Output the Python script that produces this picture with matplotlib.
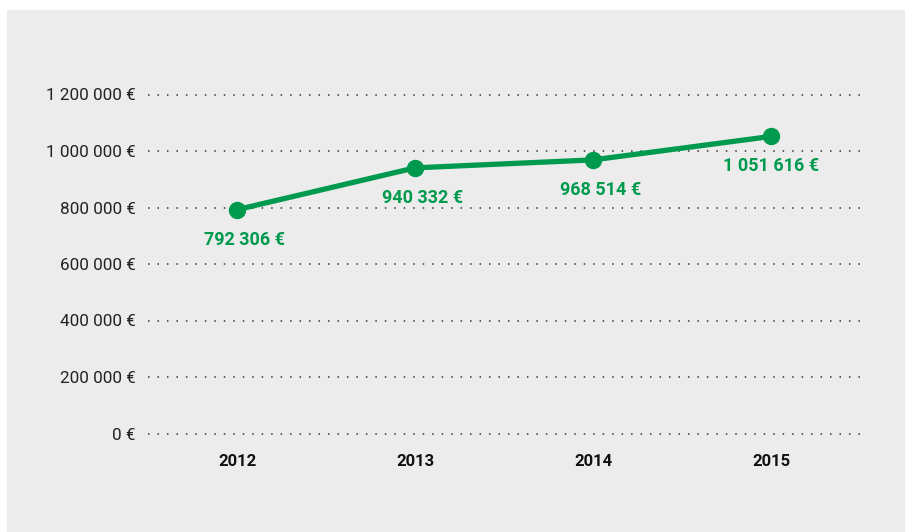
import matplotlib
matplotlib.use("Agg")
import matplotlib.pyplot as plt
from matplotlib.patches import Rectangle

years = ["2012", "2013", "2014", "2015"]
values = [792306, 940332, 968514, 1051616]
value_labels = ["792 306 €", "940 332 €", "968 514 €", "1 051 616 €"]
yticks = [0, 200000, 400000, 600000, 800000, 1000000, 1200000]
ytick_labels = ["0 €", "200 000 €", "400 000 €", "600 000 €", "800 000 €", "1 000 000 €", "1 200 000 €"]

# horizontal nudges of the value labels (points), as in the reference
label_dx = [5.5, 5.5, 5.5, 0]

plt.rcParams['font.family'] = ['Roboto', 'DejaVu Sans']

W, H = 905, 532
fig = plt.figure(figsize=(W / 100, H / 100), dpi=100)
fig.patch.set_facecolor("white")
fig.patches.append(Rectangle((7 / W, 0), 1 - 7 / W, (H - 10) / H, transform=fig.transFigure,
                             facecolor="#ececec", edgecolor="none", zorder=-5))

ax = fig.add_axes([148 / W, (H - 433.5) / H, (860 - 148) / W, (433.5 - 94.5) / H])
ax.set_facecolor("none")
ax.set_zorder(2)
green = "#009a4e"
x = list(range(len(years)))
ax.plot(x, values, color=green, lw=3.8, marker="o", markersize=11.5, solid_capstyle="round", zorder=3)
for xi, v, lab, dx in zip(x, values, value_labels, label_dx):
    ax.annotate(lab, (xi, v), xytext=(dx, -21.5), textcoords="offset points", ha="center", va="center",
                color=green, fontsize=13, fontweight="bold")

ax.set_xlim(-0.5, len(years) - 0.5)
ax.set_ylim(0, 1200000)
ax.set_yticks(yticks)
ax.set_yticklabels(ytick_labels, fontsize=12.3, color="#222222")
ax.set_xticks(x)
ax.set_xticklabels(years, fontsize=12, fontweight="bold", color="#111111")
ax.tick_params(axis="y", length=0, pad=9)
ax.tick_params(axis="x", length=0, pad=15)
for s in ax.spines.values():
    s.set_visible(False)
for t in yticks:
    ax.axhline(t, color="#333333", lw=1.1, linestyle=(0, (1, 5.2)), zorder=1, clip_on=False)

fig.savefig("out.png", dpi=100, facecolor=fig.get_facecolor())
